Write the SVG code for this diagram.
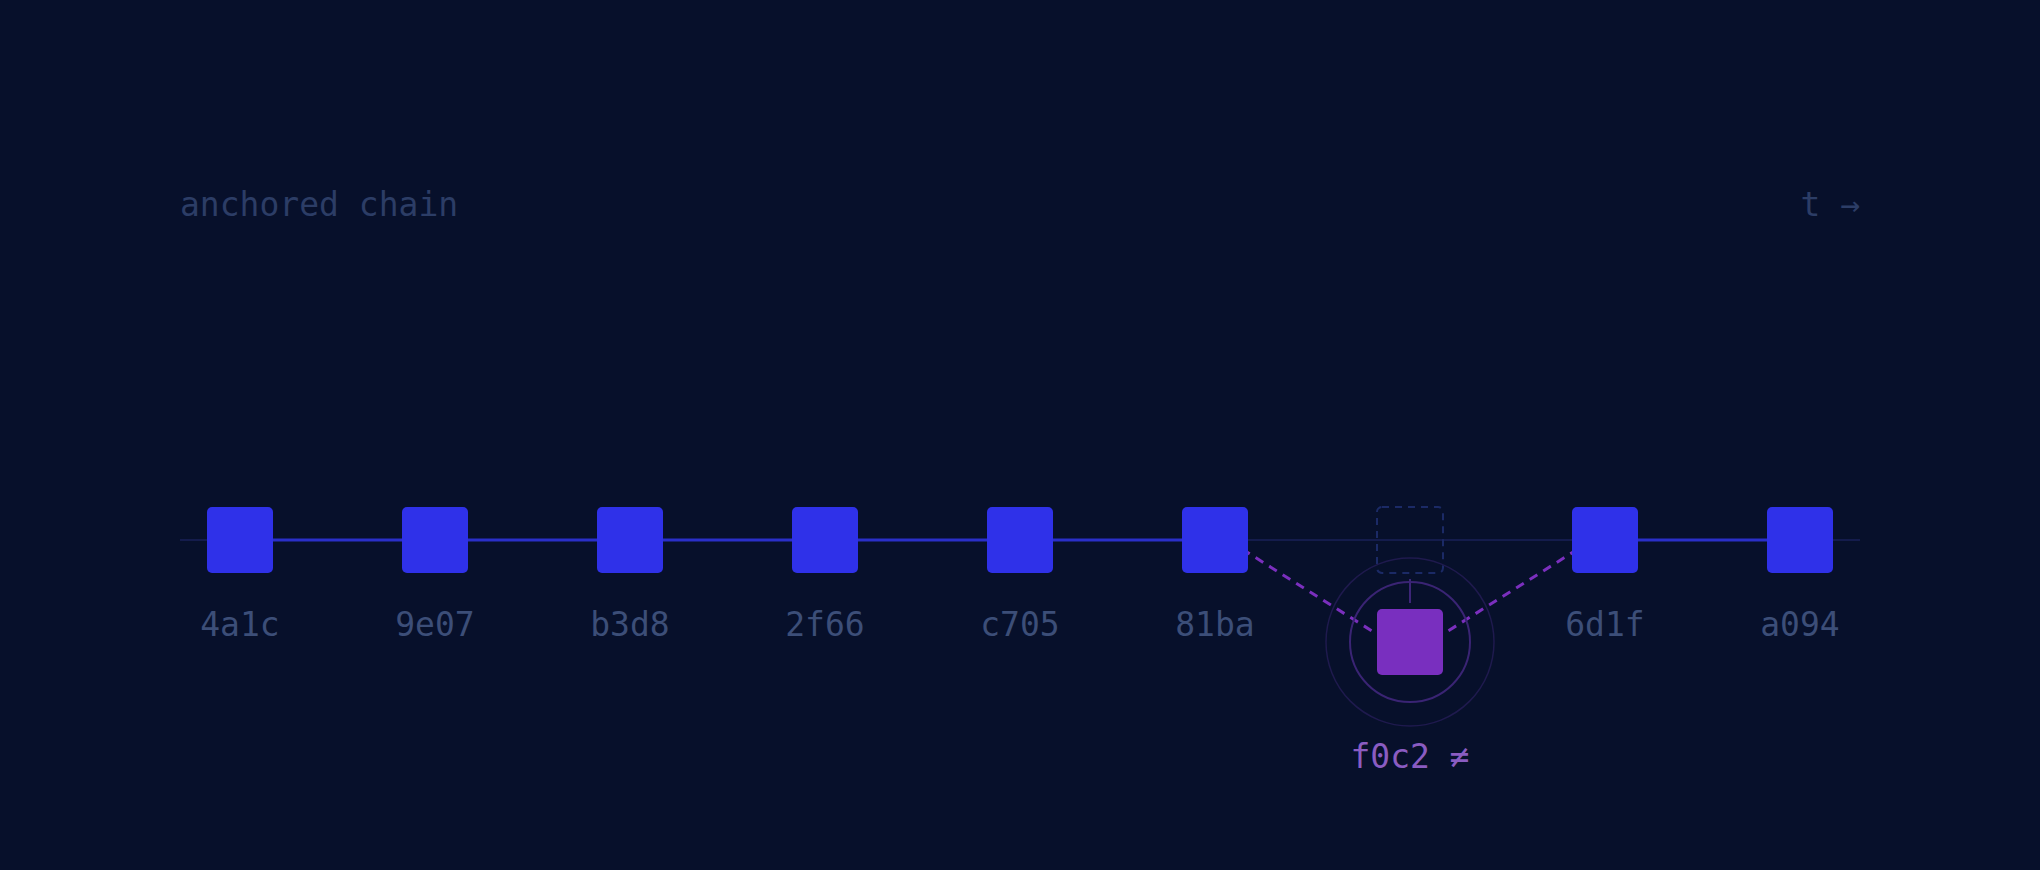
<svg xmlns="http://www.w3.org/2000/svg" width="2040" height="870" viewBox="0 0 2040 870">
<style>
.node{fill:#2f31e9}
.lbl{font-family:"DejaVu Sans Mono","Liberation Mono",monospace;font-size:33px;fill:#3c4e78;text-anchor:middle}
.ttl{font-family:"DejaVu Sans Mono","Liberation Mono",monospace;font-size:33px;fill:#2c3d66}
.link{stroke:#2a2fc8;stroke-width:3}
.fork{stroke:#7b2fbe;stroke-width:3;stroke-dasharray:9 7;fill:none}
</style>
<rect width="2040" height="870" fill="#07102b"/>
<text class="ttl" x="180" y="216">anchored chain</text>
<text class="ttl" x="1860" y="216" text-anchor="end">t →</text>
<g id="connectors">
<line x1="180" y1="540" x2="1860" y2="540" stroke="#141c4c" stroke-width="2"/>
<line class="link" x1="240" y1="540" x2="1215" y2="540"/>
<line class="link" x1="1605" y1="540" x2="1800" y2="540"/>
<line class="fork" x1="1215" y1="532" x2="1372" y2="631"/>
<line class="fork" x1="1605" y1="532" x2="1448" y2="631"/>
<line x1="1410" y1="579" x2="1410" y2="603" stroke="#3d2578" stroke-width="2"/>
</g>
<g id="n-4a1c"><rect class="node" x="207" y="507" width="66" height="66" rx="5"/><text class="lbl" x="240" y="636">4a1c</text></g>
<g id="n-9e07"><rect class="node" x="402" y="507" width="66" height="66" rx="5"/><text class="lbl" x="435" y="636">9e07</text></g>
<g id="n-b3d8"><rect class="node" x="597" y="507" width="66" height="66" rx="5"/><text class="lbl" x="630" y="636">b3d8</text></g>
<g id="n-2f66"><rect class="node" x="792" y="507" width="66" height="66" rx="5"/><text class="lbl" x="825" y="636">2f66</text></g>
<g id="n-c705"><rect class="node" x="987" y="507" width="66" height="66" rx="5"/><text class="lbl" x="1020" y="636">c705</text></g>
<g id="n-81ba"><rect class="node" x="1182" y="507" width="66" height="66" rx="5"/><text class="lbl" x="1215" y="636">81ba</text></g>
<g id="ghost"><rect x="1377" y="507" width="66" height="66" rx="5" fill="none" stroke="#1b2a66" stroke-width="2" stroke-dasharray="7 6"/></g>
<g id="n-f0c2">
<circle cx="1410" cy="642" r="84" fill="none" stroke="#1f1a4e" stroke-width="1.5"/>
<circle cx="1410" cy="642" r="60" fill="none" stroke="#3a2474" stroke-width="2"/>
<rect x="1377" y="609" width="66" height="66" rx="5" fill="#792fbf"/>
<text class="lbl" x="1410" y="768" style="fill:#8a5cc2">f0c2 ≠</text>
</g>
<g id="n-6d1f"><rect class="node" x="1572" y="507" width="66" height="66" rx="5"/><text class="lbl" x="1605" y="636">6d1f</text></g>
<g id="n-a094"><rect class="node" x="1767" y="507" width="66" height="66" rx="5"/><text class="lbl" x="1800" y="636">a094</text></g>
</svg>
